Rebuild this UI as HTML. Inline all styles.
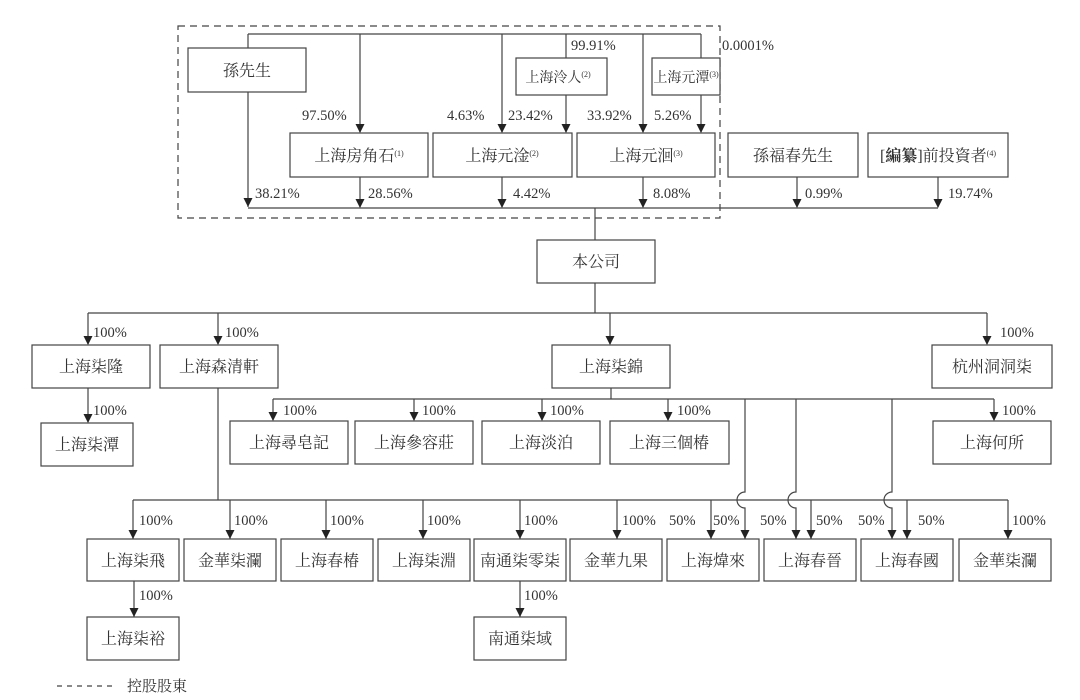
<!DOCTYPE html>
<html><head><meta charset="utf-8"><style>
html,body{margin:0;padding:0;background:#fff;}
svg{display:block;}
text{font-family:"Liberation Serif","Noto Serif CJK SC","Noto Sans CJK TC",serif;fill:#333;}
.b{font-size:16px;text-anchor:middle;}
.t{font-size:14px;text-anchor:middle;}
.p{font-size:14.5px;}
.s{font-size:8px;}
</style></head><body>
<svg width="1080" height="700" viewBox="0 0 1080 700" xmlns="http://www.w3.org/2000/svg">
<g stroke="#444" stroke-width="1.2" fill="none">
<rect x="178" y="26" width="542" height="192" stroke-dasharray="7,5"/>
<path d="M248 34 H701"/>
<path d="M248 34 V48"/>
<path d="M248 92 V207"/>
<path d="M360 34 V132" />
<path d="M502 34 V132"/>
<path d="M566 34 V58"/>
<path d="M566 95 V132"/>
<path d="M643 34 V132"/>
<path d="M701 34 V58"/>
<path d="M701 95 V132"/>
<path d="M360 177 V207"/>
<path d="M502 177 V207"/>
<path d="M643 177 V207"/>
<path d="M797 177 V207"/>
<path d="M938 177 V207"/>
<path d="M248 208 H938"/>
<path d="M595 208 V240"/>
<path d="M595 283 V313 M88 313 H987"/>
<path d="M88 313 V344 M218 313 V344 M610 313 V344 M987 313 V344"/>
<path d="M88 388 V422"/>
<path d="M611 388 V399 M273 399 H994"/>
<path d="M273 399 V420 M414 399 V420 M542 399 V420 M668 399 V420 M994 399 V420"/>
<path d="M218 388 V500 M133 500 H1008"/>
<path d="M133 500 V539 M230 500 V539 M326 500 V539 M423 500 V539 M520 500 V539 M617 500 V539 M711 500 V539 M811 500 V539 M907 500 V539 M1008 500 V539"/>
<path d="M745 399 V492 A8 8 0 0 0 745 508 V539"/>
<path d="M796 399 V492 A8 8 0 0 0 796 508 V539"/>
<path d="M892 399 V492 A8 8 0 0 0 892 508 V539"/>
<path d="M134 581 V617 M520 581 V617"/>
<rect x="188" y="48" width="118" height="44"/>
<rect x="516" y="58" width="91" height="37"/>
<rect x="652" y="58" width="68" height="37" fill="#fff"/>
<rect x="290" y="133" width="138" height="44"/>
<rect x="433" y="133" width="139" height="44"/>
<rect x="577" y="133" width="138" height="44"/>
<rect x="728" y="133" width="130" height="44"/>
<rect x="868" y="133" width="140" height="44"/>
<rect x="537" y="240" width="118" height="43"/>
<rect x="32" y="345" width="118" height="43"/>
<rect x="160" y="345" width="118" height="43"/>
<rect x="552" y="345" width="118" height="43"/>
<rect x="932" y="345" width="120" height="43"/>
<rect x="41" y="423" width="92" height="43"/>
<rect x="230" y="421" width="118" height="43"/>
<rect x="355" y="421" width="118" height="43"/>
<rect x="482" y="421" width="118" height="43"/>
<rect x="610" y="421" width="119" height="43"/>
<rect x="933" y="421" width="118" height="43"/>
<rect x="87" y="539" width="92" height="42"/>
<rect x="184" y="539" width="92" height="42"/>
<rect x="281" y="539" width="92" height="42"/>
<rect x="378" y="539" width="92" height="42"/>
<rect x="474" y="539" width="92" height="42"/>
<rect x="570" y="539" width="92" height="42"/>
<rect x="667" y="539" width="92" height="42"/>
<rect x="764" y="539" width="92" height="42"/>
<rect x="861" y="539" width="92" height="42"/>
<rect x="959" y="539" width="92" height="42"/>
<rect x="87" y="617" width="92" height="43"/>
<rect x="474" y="617" width="92" height="43"/>
<path d="M57 686 H117" stroke-dasharray="5,5"/>
</g>
<g fill="#222">
<path d="M-4.5,-9 L4.5,-9 L0,0 Z" transform="translate(248,207)"/>
<path d="M-4.5,-9 L4.5,-9 L0,0 Z" transform="translate(360,133)"/>
<path d="M-4.5,-9 L4.5,-9 L0,0 Z" transform="translate(502,133)"/>
<path d="M-4.5,-9 L4.5,-9 L0,0 Z" transform="translate(566,133)"/>
<path d="M-4.5,-9 L4.5,-9 L0,0 Z" transform="translate(643,133)"/>
<path d="M-4.5,-9 L4.5,-9 L0,0 Z" transform="translate(701,133)"/>
<path d="M-4.5,-9 L4.5,-9 L0,0 Z" transform="translate(360,208)"/>
<path d="M-4.5,-9 L4.5,-9 L0,0 Z" transform="translate(502,208)"/>
<path d="M-4.5,-9 L4.5,-9 L0,0 Z" transform="translate(643,208)"/>
<path d="M-4.5,-9 L4.5,-9 L0,0 Z" transform="translate(797,208)"/>
<path d="M-4.5,-9 L4.5,-9 L0,0 Z" transform="translate(938,208)"/>
<path d="M-4.5,-9 L4.5,-9 L0,0 Z" transform="translate(88,345)"/>
<path d="M-4.5,-9 L4.5,-9 L0,0 Z" transform="translate(218,345)"/>
<path d="M-4.5,-9 L4.5,-9 L0,0 Z" transform="translate(610,345)"/>
<path d="M-4.5,-9 L4.5,-9 L0,0 Z" transform="translate(987,345)"/>
<path d="M-4.5,-9 L4.5,-9 L0,0 Z" transform="translate(88,423)"/>
<path d="M-4.5,-9 L4.5,-9 L0,0 Z" transform="translate(273,421)"/>
<path d="M-4.5,-9 L4.5,-9 L0,0 Z" transform="translate(414,421)"/>
<path d="M-4.5,-9 L4.5,-9 L0,0 Z" transform="translate(542,421)"/>
<path d="M-4.5,-9 L4.5,-9 L0,0 Z" transform="translate(668,421)"/>
<path d="M-4.5,-9 L4.5,-9 L0,0 Z" transform="translate(994,421)"/>
<path d="M-4.5,-9 L4.5,-9 L0,0 Z" transform="translate(133,539)"/>
<path d="M-4.5,-9 L4.5,-9 L0,0 Z" transform="translate(230,539)"/>
<path d="M-4.5,-9 L4.5,-9 L0,0 Z" transform="translate(326,539)"/>
<path d="M-4.5,-9 L4.5,-9 L0,0 Z" transform="translate(423,539)"/>
<path d="M-4.5,-9 L4.5,-9 L0,0 Z" transform="translate(520,539)"/>
<path d="M-4.5,-9 L4.5,-9 L0,0 Z" transform="translate(617,539)"/>
<path d="M-4.5,-9 L4.5,-9 L0,0 Z" transform="translate(711,539)"/>
<path d="M-4.5,-9 L4.5,-9 L0,0 Z" transform="translate(745,539)"/>
<path d="M-4.5,-9 L4.5,-9 L0,0 Z" transform="translate(796,539)"/>
<path d="M-4.5,-9 L4.5,-9 L0,0 Z" transform="translate(811,539)"/>
<path d="M-4.5,-9 L4.5,-9 L0,0 Z" transform="translate(892,539)"/>
<path d="M-4.5,-9 L4.5,-9 L0,0 Z" transform="translate(907,539)"/>
<path d="M-4.5,-9 L4.5,-9 L0,0 Z" transform="translate(1008,539)"/>
<path d="M-4.5,-9 L4.5,-9 L0,0 Z" transform="translate(134,617)"/>
<path d="M-4.5,-9 L4.5,-9 L0,0 Z" transform="translate(520,617)"/>
</g>
<text class="b" x="247" y="76">孫先生</text>
<text class="t" x="558" y="82">上海泠人<tspan class="s" dy="-5">(2)</tspan></text>
<text class="t" x="686" y="82">上海元潭<tspan class="s" dy="-5">(3)</tspan></text>
<text class="b" x="359" y="161">上海房角石<tspan class="s" dy="-5">(1)</tspan></text>
<text class="b" x="502" y="161">上海元淦<tspan class="s" dy="-5">(2)</tspan></text>
<text class="b" x="646" y="161">上海元洄<tspan class="s" dy="-5">(3)</tspan></text>
<text class="b" x="793" y="161">孫福春先生</text>
<text class="b" x="938" y="161">[<tspan font-weight="bold">編纂</tspan>]前投資者<tspan class="s" dy="-5">(4)</tspan></text>
<text class="b" x="596" y="267">本公司</text>
<text class="b" x="91" y="372">上海柒隆</text>
<text class="b" x="219" y="372">上海森清軒</text>
<text class="b" x="611" y="372">上海柒錦</text>
<text class="b" x="992" y="372">杭州洞洞柒</text>
<text class="b" x="87" y="450">上海柒潭</text>
<text class="b" x="289" y="448">上海尋皂記</text>
<text class="b" x="414" y="448">上海參容莊</text>
<text class="b" x="541" y="448">上海淡泊</text>
<text class="b" x="669" y="448">上海三個椿</text>
<text class="b" x="992" y="448">上海何所</text>
<text class="b" x="133" y="566">上海柒飛</text>
<text class="b" x="230" y="566">金華柒瀾</text>
<text class="b" x="327" y="566">上海春椿</text>
<text class="b" x="424" y="566">上海柒淵</text>
<text class="b" x="520" y="566">南通柒零柒</text>
<text class="b" x="616" y="566">金華九果</text>
<text class="b" x="713" y="566">上海煒來</text>
<text class="b" x="810" y="566">上海春晉</text>
<text class="b" x="907" y="566">上海春國</text>
<text class="b" x="1005" y="566">金華柒瀾</text>
<text class="b" x="133" y="644">上海柒裕</text>
<text class="b" x="520" y="644">南通柒域</text>
<g class="p">
<text x="571" y="50">99.91%</text>
<text x="722" y="50">0.0001%</text>
<text x="302" y="120">97.50%</text>
<text x="447" y="120">4.63%</text>
<text x="508" y="120">23.42%</text>
<text x="587" y="120">33.92%</text>
<text x="654" y="120">5.26%</text>
<text x="255" y="198">38.21%</text>
<text x="368" y="198">28.56%</text>
<text x="513" y="198">4.42%</text>
<text x="653" y="198">8.08%</text>
<text x="805" y="198">0.99%</text>
<text x="948" y="198">19.74%</text>
<text x="93" y="337">100%</text>
<text x="225" y="337">100%</text>
<text x="1000" y="337">100%</text>
<text x="93" y="415">100%</text>
<text x="283" y="415">100%</text>
<text x="422" y="415">100%</text>
<text x="550" y="415">100%</text>
<text x="677" y="415">100%</text>
<text x="1002" y="415">100%</text>
<text x="139" y="525">100%</text>
<text x="234" y="525">100%</text>
<text x="330" y="525">100%</text>
<text x="427" y="525">100%</text>
<text x="524" y="525">100%</text>
<text x="622" y="525">100%</text>
<text x="669" y="525">50%</text>
<text x="713" y="525">50%</text>
<text x="760" y="525">50%</text>
<text x="816" y="525">50%</text>
<text x="858" y="525">50%</text>
<text x="918" y="525">50%</text>
<text x="1012" y="525">100%</text>
<text x="139" y="600">100%</text>
<text x="524" y="600">100%</text>
</g>
<text x="127" y="691" font-size="15">控股股東</text>
</svg>
</body></html>
